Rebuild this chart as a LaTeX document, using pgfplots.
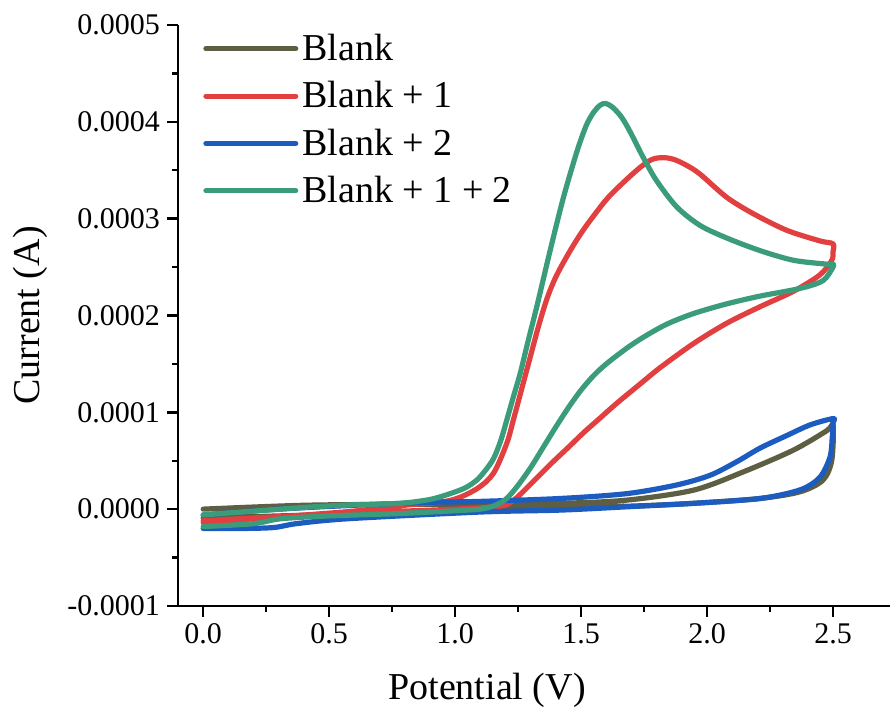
\documentclass[border=0pt]{standalone}
\usepackage{fontspec}
\setmainfont{Liberation Serif}
\usepackage{pgfplots}
\pgfplotsset{compat=1.18}

\definecolor{cblank}{RGB}{94,94,66}
\definecolor{cone}{RGB}{226,64,64}
\definecolor{ctwo}{RGB}{28,92,192}
\definecolor{cboth}{RGB}{58,156,122}

\begin{document}
\begin{tikzpicture}
\begin{axis}[
    scale only axis,
    width=356pt, height=290.5pt,
    xmin=-0.1, xmax=2.726,
    ymin=-0.0001, ymax=0.0005,
    axis x line*=bottom, axis y line*=left,
    axis line style={line width=1.3pt},
    tick align=outside,
    major tick length=5.5pt, minor tick length=2.8pt,
    every tick/.style={line width=1.2pt, black},
    xtick={0,0.5,1,1.5,2,2.5},
    minor xtick={0.25,0.75,1.25,1.75,2.25},
    ytick={-0.0001,0,0.0001,0.0002,0.0003,0.0004,0.0005},
    minor ytick={-0.00005,0.00005,0.00015,0.00025,0.00035,0.00045},
    scaled y ticks=false,
    /pgf/number format/assume math mode=true,
    tick label style={font=\fontsize{15}{18}\selectfont},
    xticklabel style={/pgf/number format/.cd, fixed, fixed zerofill, precision=1},
    yticklabel style={/pgf/number format/.cd, fixed, fixed zerofill, precision=4},
    xlabel={Potential (V)},
    ylabel={Current (A)},
    label style={font=\fontsize{19}{22}\selectfont},
    xlabel style={at={(axis description cs:0.434,-0.1446)}, anchor=center},
    ylabel style={at={(axis description cs:-0.208,0.5)}, anchor=center},
    legend style={at={(axis description cs:0.035,0.992)}, anchor=north west,
        draw=none, fill=none, inner sep=0pt, row sep=5pt,
        font=\fontsize{19}{22}\selectfont, nodes={inner sep=2pt}},
    legend cell align=left,
    legend image code/.code={\draw[#1, line width=2.5pt, line cap=round] (0pt,0pt) -- (45pt,0pt);},
    every axis plot/.append style={line width=2.6pt, line join=round, line cap=round, smooth, tension=0.5},
]
% Blank
\addplot[cblank] coordinates {
 (0,0.0) (0.4,0.4e-5) (0.8,0.5e-5) (1.1,0.5e-5) (1.417,0.6e-5) (1.681,0.93e-5)
 (1.946,1.96e-5) (2.144,3.85e-5) (2.343,6.1e-5) (2.475,8.1e-5) (2.5,8.66e-5)
 (2.495,5.05e-5) (2.46,3.0e-5) (2.37,1.8e-5) (2.21,1.1e-5) (1.946,0.6e-5)
 (1.681,0.3e-5) (1.417,0.2e-5) (1.1,0.0) (0.7,-0.4e-5) (0.3,-0.7e-5) (0,-0.9e-5)
};
\addlegendentry{Blank}
% Blank + 1
\addplot[cone] coordinates {
 (0,-1.4e-5) (0.3,-0.8e-5) (0.6,-0.2e-5) (0.8,0.4e-5) (0.98,0.9e-5) (1.086,2.1e-5)
 (1.152,3.7e-5) (1.205,6.8e-5) (1.231,9.2e-5) (1.265,12.5e-5) (1.298,15.7e-5)
 (1.33,18.8e-5) (1.364,21.7e-5) (1.40,24.0e-5) (1.45,26.4e-5) (1.50,28.5e-5)
 (1.55,30.3e-5) (1.615,32.4e-5) (1.721,35.0e-5) (1.78,36.1e-5) (1.827,36.3e-5)
 (1.87,36.1e-5) (1.919,35.5e-5) (1.972,34.6e-5) (2.078,32.2e-5) (2.184,30.5e-5)
 (2.316,28.8e-5) (2.448,27.7e-5) (2.5,27.4e-5)
 (2.5,26.6e-5) (2.495,25.7e-5) (2.448,24.2e-5) (2.343,22.5e-5) (2.21,20.9e-5)
 (2.078,19.2e-5) (1.946,17.1e-5) (1.813,14.6e-5) (1.747,13.2e-5) (1.64,10.9e-5)
 (1.575,9.4e-5) (1.51,7.9e-5) (1.45,6.4e-5) (1.377,4.6e-5) (1.285,2.2e-5)
 (1.231,0.9e-5) (1.18,0.3e-5) (1.0,0.0) (0.7,-0.3e-5) (0.355,-0.7e-5) (0,-1.2e-5)
};
\addlegendentry{Blank + 1}
% Blank + 2
\addplot[ctwo] coordinates {
 (0,-0.6e-5) (0.3,0.0) (0.6,0.4e-5) (0.9,0.7e-5) (1.1,0.8e-5) (1.417,1.1e-5)
 (1.681,1.6e-5) (1.88,2.5e-5) (2.012,3.5e-5) (2.118,4.9e-5) (2.21,6.3e-5)
 (2.316,7.6e-5) (2.409,8.7e-5) (2.5,9.35e-5)
 (2.5,8.9e-5) (2.497,7.5e-5) (2.488,5.4e-5) (2.448,3.3e-5) (2.37,2.0e-5)
 (2.21,1.1e-5) (1.946,0.6e-5) (1.681,0.24e-5) (1.417,-0.1e-5) (1.1,-0.3e-5)
 (0.57,-1.0e-5) (0.37,-1.5e-5) (0.28,-1.9e-5) (0.15,-2.0e-5) (0,-2.0e-5)
};
\addlegendentry{Blank + 2}
% Blank + 1 + 2
\addplot[cboth] coordinates {
 (0,-0.6e-5) (0.2,-0.2e-5) (0.437,0.24e-5) (0.6,0.45e-5) (0.782,0.6e-5) (0.9,1.0e-5)
 (0.98,1.6e-5) (1.04,2.2e-5) (1.086,3.0e-5) (1.12,4.0e-5) (1.152,5.2e-5)
 (1.18,7.0e-5) (1.205,9.2e-5) (1.23,11.5e-5) (1.258,14.0e-5) (1.29,17.4e-5)
 (1.324,20.9e-5) (1.377,26.7e-5) (1.43,32.2e-5) (1.483,36.9e-5) (1.52,39.6e-5)
 (1.55,41.0e-5) (1.575,41.7e-5) (1.597,41.9e-5) (1.625,41.5e-5) (1.66,40.5e-5)
 (1.694,39.0e-5) (1.747,36.3e-5) (1.80,33.9e-5) (1.88,31.2e-5) (1.972,29.3e-5)
 (2.078,28.0e-5) (2.21,26.7e-5) (2.343,25.7e-5) (2.475,25.3e-5) (2.5,25.3e-5)
 (2.5,25.0e-5) (2.46,23.6e-5) (2.37,22.8e-5) (2.21,22.0e-5) (2.078,21.2e-5)
 (1.946,20.2e-5) (1.84,19.1e-5) (1.75,17.8e-5) (1.68,16.6e-5) (1.60,15.0e-5)
 (1.55,13.8e-5) (1.50,12.3e-5) (1.45,10.5e-5) (1.40,8.5e-5) (1.35,6.4e-5)
 (1.30,4.3e-5) (1.245,2.3e-5) (1.2,1.0e-5) (1.15,0.3e-5) (1.1,0.0) (1.046,-0.1e-5)
 (0.782,-0.45e-5) (0.5,-0.7e-5) (0.306,-1.0e-5) (0.2,-1.5e-5) (0,-1.8e-5)
};
\addlegendentry{Blank + 1 + 2}
\coordinate (bl) at (rel axis cs:-0.25,-0.1807);
\coordinate (tr) at (rel axis cs:1,1.043);
\end{axis}
\pgfresetboundingbox
\path (bl) rectangle (tr);
\end{tikzpicture}
\end{document}
